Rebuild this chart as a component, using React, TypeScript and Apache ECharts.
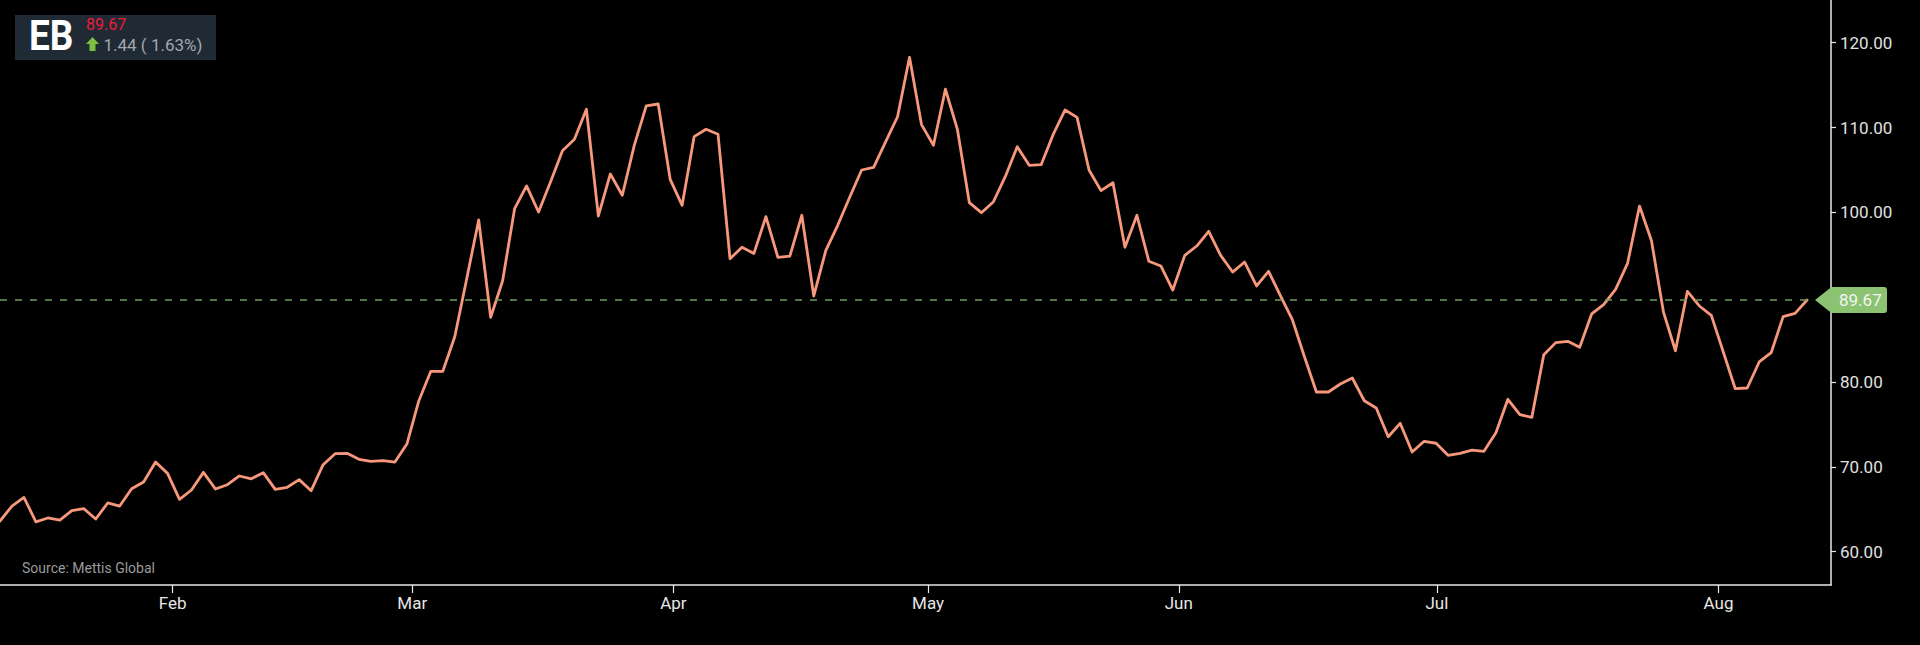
import React, { useEffect, useRef } from "react";
import * as echarts from "echarts";

const ticker = "EB";
const lastPrice = 89.67;
const change = 1.44;
const changePct = 1.63;
const sourceText = "Source: Mettis Global";

// daily closing prices (trading days, equally spaced)
const prices = [
  63.61, 65.38, 66.4, 63.52, 63.97, 63.72, 64.83, 65.07, 63.85, 65.74,
  65.38, 67.42, 68.21, 70.56, 69.23, 66.17, 67.27, 69.35, 67.39, 67.89,
  68.92, 68.59, 69.31, 67.35, 67.59, 68.49, 67.19, 70.25, 71.55, 71.59,
  70.89, 70.65, 70.73, 70.56, 72.69, 77.79, 81.26, 81.26, 85.34, 92.18,
  99.1, 87.63, 91.94, 100.43, 103.11, 100.04, 103.58, 107.27, 108.61, 112.15,
  99.57, 104.52, 102.01, 107.9, 112.54, 112.77, 103.89, 100.83, 108.92, 109.79,
  109.2, 94.53, 95.88, 95.16, 99.49, 94.7, 94.85, 99.65, 90.14, 95.48,
  98.47, 101.77, 104.99, 105.31, 108.3, 111.27, 118.28, 110.34, 107.9, 114.51,
  109.79, 101.14, 99.96, 101.22, 104.2, 107.73, 105.54, 105.62, 109.16, 112.07,
  111.2, 104.99, 102.56, 103.49, 95.88, 99.65, 94.23, 93.68, 90.84, 94.93,
  96.03, 97.76, 94.93, 92.96, 94.14, 91.32, 93.05, 90.14, 87.31, 82.98,
  78.82, 78.82, 79.76, 80.47, 77.79, 76.94, 73.55, 75.13, 71.75, 73.01,
  72.78, 71.36, 71.59, 71.98, 71.83, 74.02, 77.96, 76.15, 75.83, 83.22,
  84.64, 84.8, 84.09, 88.02, 89.11, 90.92, 93.99, 100.74, 96.65, 88.25,
  83.68, 90.69, 88.96, 87.86, 83.53, 79.21, 79.29, 82.36, 83.45, 87.7,
  88.09, 89.67,
];

const monthLabels = ["Feb", "Mar", "Apr", "May", "Jun", "Jul", "Aug"];
const monthPositions = [14.42, 34.45, 56.27, 77.55, 98.5, 120.07, 143.6];

const yTickValues = [60, 70, 80, 90, 100, 110, 120];
const yLabelValues = [60, 70, 80, 100, 110, 120];
const yMin = 56.07;
const yMax = 125.03;
const xMax = 153;

export default function App() {
  const ref = useRef<HTMLDivElement>(null);

  useEffect(() => {
    document.body.style.margin = "0";
    document.body.style.background = "#000";
    const el = ref.current!;
    const chart = echarts.init(el, null, { renderer: "svg" });
    const axisColor = "#e8e8e8";
    const font = "Roboto";

    chart.setOption({
      animation: false,
      backgroundColor: "#000000",
      grid: { left: 0, right: 89, top: 0, bottom: 60, containLabel: false },
      xAxis: {
        type: "value",
        min: 0,
        max: xMax,
        axisLine: { show: true, onZero: false, lineStyle: { color: axisColor, width: 1.5 } },
        axisTick: { show: true, customValues: monthPositions, length: 8, lineStyle: { color: axisColor, width: 1.2 } },
        axisLabel: {
          show: true,
          customValues: monthPositions,
          formatter: (v: number) => {
            const i = monthPositions.findIndex((p) => Math.abs(p - v) < 1e-6);
            return i >= 0 ? monthLabels[i] : "";
          },
          color: "#e6e6e6",
          fontSize: 17,
          fontFamily: font,
          margin: 9,
        },
        splitLine: { show: false },
      },
      yAxis: {
        type: "value",
        position: "right",
        min: yMin,
        max: yMax,
        axisLine: { show: true, onZero: false, lineStyle: { color: axisColor, width: 1.5 } },
        axisTick: { show: true, customValues: yTickValues, length: 5, lineStyle: { color: axisColor, width: 1.2 } },
        axisLabel: {
          show: true,
          customValues: yLabelValues,
          formatter: (v: number) => v.toFixed(2),
          color: "#e0e0e0",
          fontSize: 17,
          fontFamily: font,
          margin: 9,
        },
        splitLine: { show: false },
      },
      series: [
        {
          type: "line",
          data: prices.map((v, i) => [i, v]),
          symbol: "none",
          lineStyle: { color: "#f7987c", width: 2.8, join: "round", cap: "round" },
          markLine: {
            silent: true,
            symbol: "none",
            label: { show: false },
            lineStyle: { color: "#6d9f58", type: [7, 8], width: 1.5 },
            data: [[{ coord: [0, lastPrice] }, { coord: [prices.length - 1, lastPrice] }]],
          },
        },
      ],
    });

    const yLast = chart.convertToPixel({ yAxisIndex: 0 }, lastPrice) as number;
    const xAxisPx = chart.convertToPixel({ xAxisIndex: 0 }, xMax) as number;

    chart.setOption({
      graphic: [
        { type: "rect", z: 100, shape: { x: 15, y: 15, width: 201, height: 45 }, style: { fill: "#1f2a35" } },
        {
          type: "text",
          z: 101,
          x: 29,
          y: 36,
          scaleX: 0.86,
          style: { text: ticker, x: 0, y: 0, fill: "#ffffff", fontSize: 43, fontWeight: "bold", fontFamily: font, verticalAlign: "middle" },
        },
        {
          type: "text",
          z: 101,
          style: { text: lastPrice.toFixed(2), x: 86, y: 24, fill: "#ec1b3b", fontSize: 16, fontFamily: font, verticalAlign: "middle" },
        },
        {
          type: "polygon",
          z: 101,
          shape: { points: [[92.5, 37], [99, 44], [95.5, 44], [95.5, 51], [89.5, 51], [89.5, 44], [86, 44]] },
          style: { fill: "#7bc043" },
        },
        {
          type: "text",
          z: 101,
          style: {
            text: `${change.toFixed(2)} ( ${changePct.toFixed(2)}%)`,
            x: 103.5,
            y: 44.5,
            fill: "#a3a8ad",
            fontSize: 17,
            fontFamily: font,
            verticalAlign: "middle",
          },
        },
        {
          type: "text",
          z: 101,
          style: { text: sourceText, x: 22, y: 568, fill: "#9a9a9a", fontSize: 14, fontFamily: font, verticalAlign: "middle" },
        },
        {
          type: "polygon",
          z: 100,
          shape: { points: [[xAxisPx - 16, yLast], [xAxisPx + 0.5, yLast - 13], [xAxisPx + 0.5, yLast + 13]] },
          style: { fill: "#8bc373" },
        },
        {
          type: "rect",
          z: 100,
          shape: { x: xAxisPx, y: yLast - 13, width: 56, height: 26, r: [0, 3, 3, 0] },
          style: { fill: "#8bc373" },
        },
        {
          type: "text",
          z: 101,
          style: {
            text: lastPrice.toFixed(2),
            x: xAxisPx + 8,
            y: yLast + 0.5,
            fill: "#f4f4f4",
            fontSize: 17,
            fontFamily: font,
            verticalAlign: "middle",
          },
        },
      ],
    });

    return () => chart.dispose();
  }, []);

  return (
    <div
      ref={ref}
      style={{ position: "absolute", left: 0, top: 0, width: 1920, height: 645, background: "#000" }}
    />
  );
}
